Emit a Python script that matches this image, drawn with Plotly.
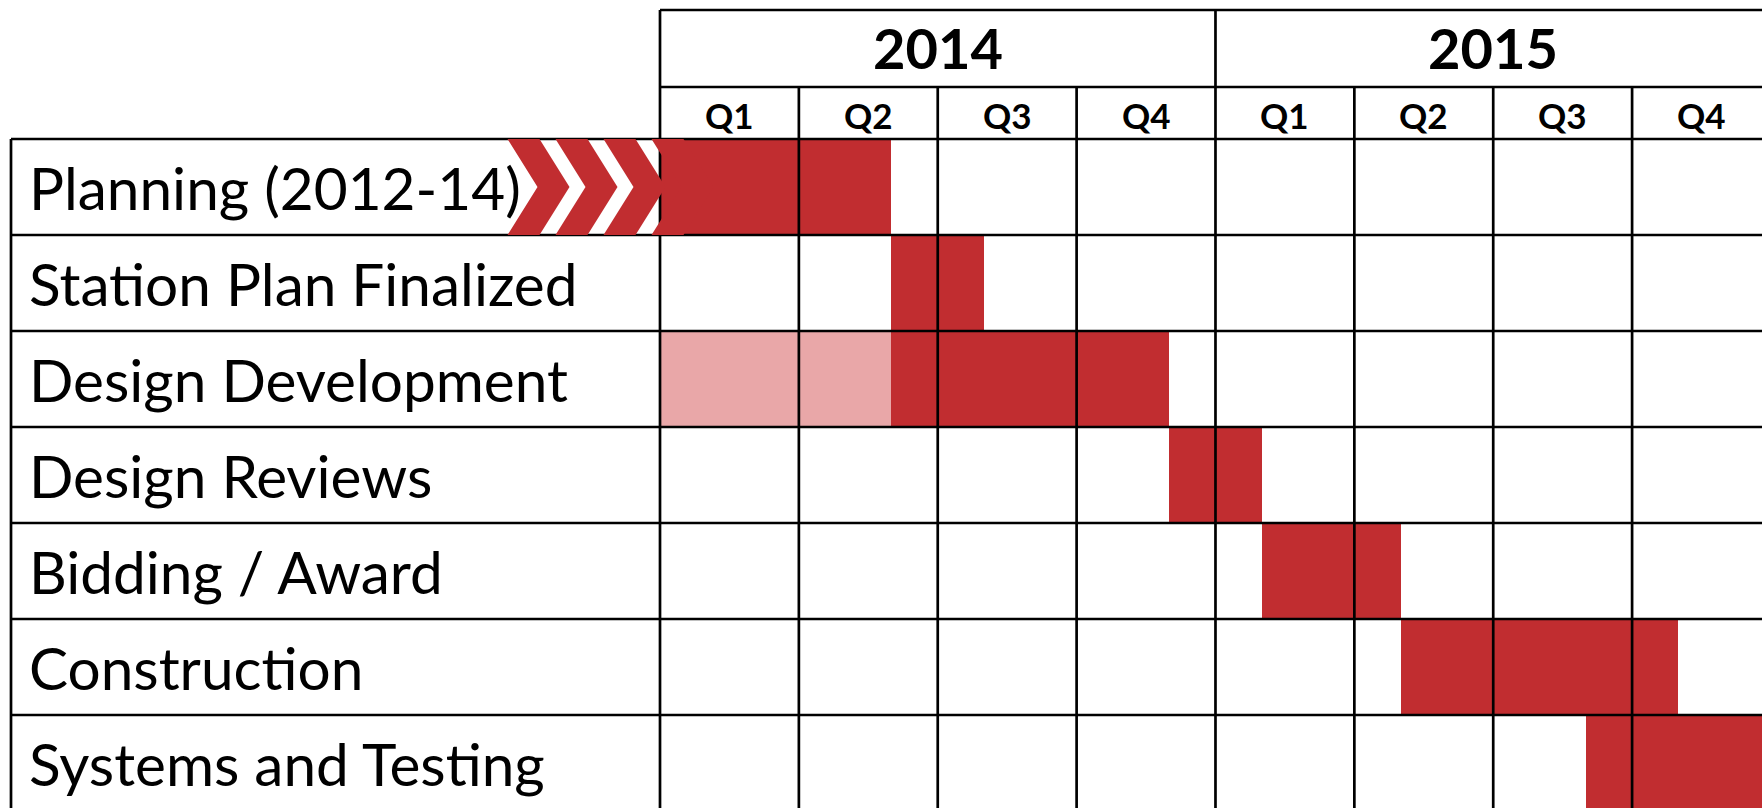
import plotly.graph_objects as go

# ---------------- data ----------------
tasks = ["Planning (2012-14)", "Station Plan Finalized", "Design Development",
         "Design Reviews", "Bidding / Award", "Construction", "Systems and Testing"]
# months since Jan 2014
task_start = [0, 5, 5, 11, 13, 16, 20]
task_end = [5, 7, 11, 13, 16, 22, 26]
# preliminary (lighter) phase
pre_task = ["Design Development"]
pre_start = [0]
pre_end = [5]
years = ["2014", "2015"]
quarters = ["Q1", "Q2", "Q3", "Q4", "Q1", "Q2", "Q3", "Q4"]

# ---------------- style / geometry ----------------
W, H = 1762, 808
PX_M = 46.29          # pixels per month
X0_PX = 660           # pixel position of Jan 2014
ROW_TOP_PX = 139      # pixel top of first task row
ROW_PX = 96           # row height in px
RED = "#C12D30"
PINK = "#E9A7A8"
LINE = "#000000"
LW = 2.7
FONT = "Lato"

def mx(px):  # pixel x -> month
    return (px - X0_PX) / PX_M

def ry(py):  # pixel y -> row units
    return (py - ROW_TOP_PX) / ROW_PX

xr = [mx(0), mx(W)]
yr = [ry(H), ry(0)]
n = len(tasks)
row_c = [i + 0.5 for i in range(n)]

fig = go.Figure()
fig.add_trace(go.Bar(
    y=[row_c[tasks.index(t)] for t in pre_task],
    x=[e - s for s, e in zip(pre_start, pre_end)], base=pre_start,
    orientation="h", width=1, marker=dict(color=PINK, line=dict(width=0)),
    hoverinfo="skip", showlegend=False))
fig.add_trace(go.Bar(
    y=row_c, x=[e - s for s, e in zip(task_start, task_end)], base=task_start,
    orientation="h", width=1, marker=dict(color=RED, line=dict(width=0)),
    hoverinfo="skip", showlegend=False))

shapes = []
y_top = ry(10)
y_mid = ry(87)
y_bot = n + 0.2
x_left = mx(11)
x_right = 24.5
# header horizontal lines
shapes.append(dict(type="line", x0=0, x1=x_right, y0=y_top, y1=y_top))
shapes.append(dict(type="line", x0=0, x1=x_right, y0=y_mid, y1=y_mid))
# row lines
for i in range(n):
    shapes.append(dict(type="line", x0=x_left, x1=x_right, y0=i, y1=i))
# left border of label column
shapes.append(dict(type="line", x0=x_left, x1=x_left, y0=0, y1=y_bot))
# year lines
for k in range(len(years) + 1):
    shapes.append(dict(type="line", x0=12 * k, x1=12 * k, y0=y_top, y1=y_bot))
# quarter lines
for q in range(len(quarters)):
    if q % 4 != 0:
        shapes.append(dict(type="line", x0=3 * q, x1=3 * q, y0=y_mid, y1=y_bot))
for s in shapes:
    s.update(xref="x", yref="y", layer="above", line=dict(color=LINE, width=LW))

# chevrons to the left of Planning bar (continuation from earlier years)
plan_i = 0
c0 = task_start[plan_i] + mx(507.5) - mx(X0_PX)
period = 48 / PX_M
thick = 32 / PX_M
depth = 30 / PX_M
for k in range(4):
    a = c0 + k * period
    b = a + thick
    t, m, bt = plan_i, plan_i + 0.5, plan_i + 1
    path = (f"M {a},{t} L {b},{t} L {b + depth},{m} L {b},{bt} "
            f"L {a},{bt} L {a + depth},{m} Z")
    shapes.append(dict(type="path", path=path, xref="x", yref="y",
                       fillcolor=RED, line=dict(width=0), layer="above"))

annotations = []
for k, yv in enumerate(years):
    annotations.append(dict(x=12 * k + 6, y=(y_top + y_mid) / 2 - 0.01, text=f"<b>{yv}</b>",
                            xref="x", yref="y", showarrow=False,
                            font=dict(family=FONT, size=56, color="#000")))
for q, ql in enumerate(quarters):
    annotations.append(dict(x=3 * q + 1.5, y=y_mid / 2 + 0.02, text=f"<b>{ql}</b>",
                            xref="x", yref="y", showarrow=False,
                            font=dict(family=FONT, size=35, color="#000")))
for i, t in enumerate(tasks):
    annotations.append(dict(x=27 / W, y=row_c[i], text=t, xref="paper", yref="y",
                            xanchor="left", showarrow=False,
                            font=dict(family=FONT, size=58.5, color="#000")))

fig.update_layout(
    width=W, height=H, margin=dict(l=0, r=0, t=0, b=0),
    paper_bgcolor="white", plot_bgcolor="white",
    barmode="overlay", bargap=0,
    xaxis=dict(range=xr, visible=False, fixedrange=True),
    yaxis=dict(range=yr, visible=False, fixedrange=True),
    shapes=shapes, annotations=annotations,
)
fig.write_html("out.html", config={"displayModeBar": False},
               post_script="document.body.style.margin='0';document.body.style.overflow='hidden';")
